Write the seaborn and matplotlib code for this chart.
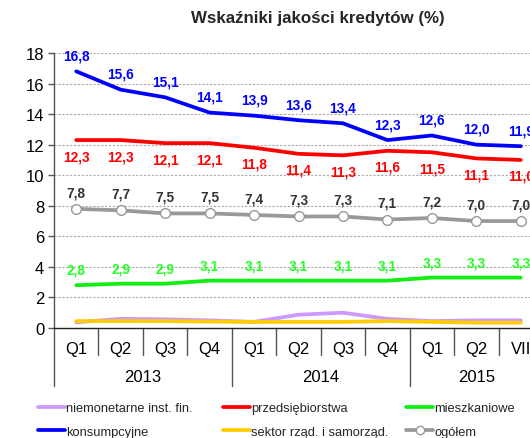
import matplotlib
matplotlib.use("Agg")
import matplotlib.pyplot as plt
import matplotlib.transforms as mtransforms
from matplotlib.lines import Line2D
import seaborn as sns
import pandas as pd

sns.set_theme(style="white")
plt.rcParams["font.family"] = ["Liberation Sans", "DejaVu Sans"]

quarters = ["Q1", "Q2", "Q3", "Q4", "Q1", "Q2", "Q3", "Q4", "Q1", "Q2", "VII"]
years = ["2013", "2014", "2015"]
year_spans = [(0, 4), (4, 8), (8, 11)]

niemonetarne = [0.37, 0.6, 0.57, 0.5, 0.4, 0.87, 1.0, 0.6, 0.45, 0.5, 0.5]
przedsiebiorstwa = [12.3, 12.3, 12.1, 12.1, 11.8, 11.4, 11.3, 11.6, 11.5, 11.1, 11.0]
mieszkaniowe = [2.8, 2.9, 2.9, 3.1, 3.1, 3.1, 3.1, 3.1, 3.3, 3.3, 3.3]
konsumpcyjne = [16.8, 15.6, 15.1, 14.1, 13.9, 13.6, 13.4, 12.3, 12.6, 12.0, 11.9]
sektor = [0.45, 0.45, 0.45, 0.42, 0.4, 0.4, 0.4, 0.45, 0.4, 0.35, 0.35]
ogolem = [7.8, 7.7, 7.5, 7.5, 7.4, 7.3, 7.3, 7.1, 7.2, 7.0, 7.0]

idx = list(range(len(quarters)))

fig = plt.figure(figsize=(5.30, 4.39), dpi=100)
ax = fig.add_axes([54 / 530, 110 / 439, (543 - 54) / 530, 275 / 439])

C_PURPLE = "#CC99FF"
C_RED = "#FF0000"
C_GREEN = "#11EE11"
C_BLUE = "#0000FF"
C_YELLOW = "#FFCC00"
C_GRAY = "#999999"

def draw(values, color, z, **kw):
    df = pd.DataFrame({"x": idx, "y": values})
    sns.lineplot(data=df, x="x", y="y", ax=ax, color=color, linewidth=2.7,
                 zorder=z, legend=False, **kw)

draw(niemonetarne, C_PURPLE, 3)
draw(sektor, C_YELLOW, 4)
draw(mieszkaniowe, C_GREEN, 5)
draw(ogolem, C_GRAY, 6, marker="o", markersize=7, markerfacecolor="white",
     markeredgecolor=C_GRAY, markeredgewidth=1.0)
draw(przedsiebiorstwa, C_RED, 7)
draw(konsumpcyjne, C_BLUE, 8)

def fmt(v):
    return f"{v:.1f}".replace(".", ",")

def labels(values, color, dy):
    for i, v in zip(idx, values):
        ax.annotate(fmt(v), (i, v), xytext=(0, dy), textcoords="offset points",
                    ha="center", va="center", color=color, fontsize=9.8,
                    fontweight="bold", zorder=10, annotation_clip=False)

labels(konsumpcyjne, C_BLUE, 11.5)
labels(przedsiebiorstwa, C_RED, -11.5)
labels(ogolem, "#333333", 12)
labels(mieszkaniowe, "#22FF22", 11)

ax.set_xlim(-0.5, len(quarters) - 0.5)
ax.set_ylim(0, 18)
ax.set_yticks(range(0, 19, 2))
ax.tick_params(axis="y", labelsize=12, length=4, width=1, color="#555555",
               left=True, pad=3, labelcolor="black")
ax.set_xticks([])
ax.set_xlabel("")
ax.set_ylabel("")
for y in range(2, 19, 2):
    ax.axhline(y, color="#AAAAAA", linestyle=(0, (2, 1.5)), linewidth=0.8, zorder=1)

for s in ["top", "right"]:
    ax.spines[s].set_visible(False)
ax.spines["left"].set_color("#555555")
ax.spines["bottom"].set_color("#222222")
ax.spines["left"].set_linewidth(1)
ax.spines["bottom"].set_linewidth(1)

# two-level category axis
trans = mtransforms.blended_transform_factory(ax.transData, ax.transAxes)
px = 1 / 275.0
ax.plot([-0.5, -0.5], [0, -58 * px], transform=trans, color="#555555",
        linewidth=1, clip_on=False)
for i, q in enumerate(quarters):
    ax.text(i, -21 * px, q, transform=trans, ha="center", va="center",
            fontsize=12, color="black")
    if i > 0:
        long_tick = any(i == a for a, _ in year_spans)
        ax.plot([i - 0.5, i - 0.5], [0, -(58 if long_tick else 27) * px],
                transform=trans, color="#555555", linewidth=1, clip_on=False)
for yr, (a, b) in zip(years, year_spans):
    ax.text((a + b - 1) / 2, -49 * px, yr, transform=trans, ha="center",
            va="center", fontsize=12, color="black")

fig.text(318 / 530, 1 - 18 / 439, "Wskaźniki jakości kredytów (%)",
         ha="center", va="center", fontsize=12.2, fontweight="bold")

def handle(color, marker=None):
    if marker:
        return Line2D([], [], color=color, linewidth=2.7, marker="o",
                      markersize=6, markerfacecolor="white",
                      markeredgecolor=color)
    return Line2D([], [], color=color, linewidth=2.7)

legend_cols = [
    (38, [(handle(C_PURPLE), "niemonetarne inst. fin."), (handle(C_BLUE), "konsumpcyjne")]),
    (223, [(handle(C_RED), "przedsiębiorstwa"), (handle(C_YELLOW), "sektor rząd. i samorząd.")]),
    (406, [(handle(C_GREEN), "mieszkaniowe"), (handle(C_GRAY, "o"), "ogółem")]),
]
for xpos, entries in legend_cols:
    fig.legend([h for h, _ in entries], [t for _, t in entries],
               loc="upper left", bbox_to_anchor=(xpos / 530, 1 - 403 / 439),
               frameon=False, fontsize=9.3, handlelength=2.1,
               handletextpad=0.1, borderaxespad=0, borderpad=0,
               labelspacing=0.9)

fig.savefig("out.png", dpi=100, facecolor="white")
